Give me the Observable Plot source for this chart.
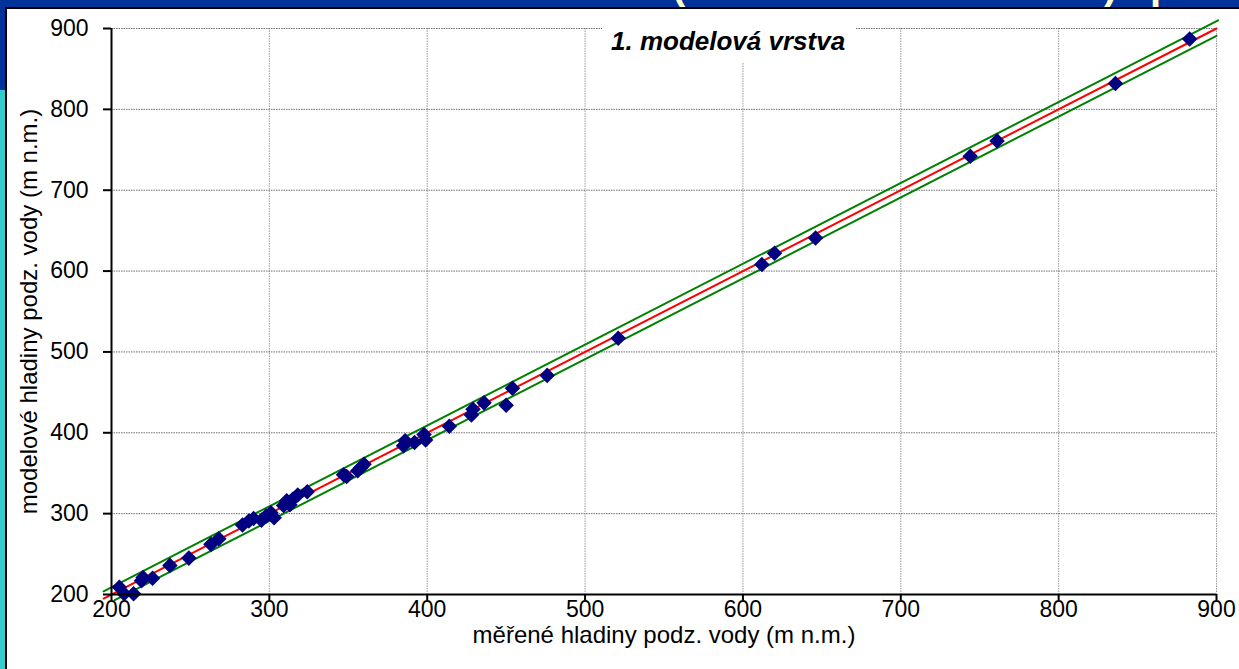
<!DOCTYPE html>
<html>
<head>
<meta charset="utf-8">
<script src="https://cdn.jsdelivr.net/npm/d3@7"></script>
<script src="https://cdn.jsdelivr.net/npm/@observablehq/plot@0.6"></script>
<style>
  html, body { margin: 0; padding: 0; background: #fff; width: 1239px; height: 669px; overflow: hidden;
    font-family: "Liberation Sans", Arial, sans-serif; }
  #chart { position: absolute; left: 0; top: 0; }
  #banner { position: absolute; left: 0; top: 0; width: 1239px; height: 7px; background: #003399; overflow: hidden; }
  #banner span { position: absolute; top: -35px; font: bold 40px/40px "Liberation Sans", Arial, sans-serif; color: #ffffcc; }
  #bannerline { position: absolute; left: 0; top: 7px; width: 1239px; height: 2px; background: #000; }
  #stripBlue { position: absolute; left: 0; top: 0; width: 5px; height: 90px; background: #003399; }
  #stripTeal { position: absolute; left: 0; top: 90px; width: 5px; height: 579px; background: #33cccc; }
  #stripLine { position: absolute; left: 5px; top: 7px; width: 2px; height: 662px; background: #000; }
  #layerBox { position: absolute; left: 602px; top: 16px; width: 254px; height: 46px; background: #fff; }
  #layerBox span { position: absolute; left: 9px; top: 12px; font: italic bold 26px/26px "Liberation Sans", Arial, sans-serif; color: #000; white-space: nowrap; }
</style>
</head>
<body>
<div id="chart"></div>
<div id="banner"><span style="left:672px">(</span><span style="left:1104px">)</span><span style="left:1150px">p</span></div>
<div id="bannerline"></div>
<div id="stripBlue"></div>
<div id="stripTeal"></div>
<div id="stripLine"></div>
<div id="layerBox"><span>1. modelová vrstva</span></div>
<script>
// measured groundwater levels (m n.m.)
const measured = [205, 208, 214, 219, 220, 226, 237, 249, 263, 268, 283, 287, 290, 295, 298, 301, 303,
  309, 311, 313, 315, 318, 324, 347, 349, 356, 358, 360, 385, 386, 392, 398, 399, 414, 428, 429,
  436, 450, 454, 476, 521, 612, 620, 646, 744, 761, 836, 883];
// modelled groundwater levels (m n.m.)
const modeled = [209, 201, 201, 217, 221, 220, 236, 245, 262, 269, 286, 291, 294, 292, 297, 301, 295,
  310, 316, 311, 318, 323, 327, 348, 346, 353, 357, 361, 384, 390, 388, 398, 391, 408, 422, 429,
  437, 434, 455, 471, 517, 608, 622, 641, 742, 761, 832, 887];
// 1:1 line and tolerance band
const idealX = [195, 900];
const idealY = [195, 900];
const upperX = [195, 901];
const upperY = [204, 910];
const lowerX = [202, 900];
const lowerY = [193, 891];
const xTicks = [200, 300, 400, 500, 600, 700, 800, 900];
const yTicks = [200, 300, 400, 500, 600, 700, 800, 900];
const xTitle = "měřené hladiny podz. vody (m n.m.)";
const yTitle = "modelové hladiny podz. vody (m n.m.)";

const points = measured.map((x, i) => ({x, y: modeled[i]}));
const ideal = idealX.map((x, i) => ({x, y: idealY[i]}));
const upper = upperX.map((x, i) => ({x, y: upperY[i]}));
const lower = lowerX.map((x, i) => ({x, y: lowerY[i]}));

const chart = Plot.plot({
  width: 1239,
  height: 669,
  marginLeft: 111,
  marginRight: 23,
  marginTop: 28,
  marginBottom: 75,
  style: {fontFamily: '"Liberation Sans", Arial, sans-serif', fontSize: "23px", background: "transparent", color: "#000", overflow: "visible"},
  x: {domain: [200, 900]},
  y: {domain: [200, 900]},
  marks: [
    Plot.gridX(xTicks, {stroke: "#9a9a9a", strokeOpacity: 1, strokeDasharray: "1.5,1"}),
    Plot.gridY(yTicks, {stroke: "#6e6e6e", strokeOpacity: 1, strokeDasharray: "1.5,1"}),
    Plot.line(upper, {x: "x", y: "y", stroke: "#008000", strokeWidth: 2}),
    Plot.line(lower, {x: "x", y: "y", stroke: "#008000", strokeWidth: 2}),
    Plot.line(ideal, {x: "x", y: "y", stroke: "#ff0000", strokeWidth: 2}),
    Plot.dot(points, {x: "x", y: "y", symbol: "diamond2", r: 7, fill: "#000080", stroke: "none"}),
    Plot.ruleX([200], {stroke: "#000", strokeWidth: 2}),
    Plot.ruleY([200], {stroke: "#000", strokeWidth: 2}),
    Plot.axisX(xTicks, {tickSize: 6, tickPadding: 0, strokeWidth: 2, fontSize: 23,
      label: xTitle, labelAnchor: "center", labelOffset: 48, labelArrow: "none"}),
    Plot.axisY(yTicks, {tickSize: 8, tickPadding: 15, strokeWidth: 2, fontSize: 23,
      label: yTitle, labelAnchor: "center", labelOffset: 92, labelArrow: "none"})
  ]
});
// axis titles slightly larger than tick labels
chart.querySelectorAll("g[aria-label='x-axis label'] text, g[aria-label='y-axis label'] text")
  .forEach(t => t.setAttribute("font-size", "24"));
document.getElementById("chart").appendChild(chart);
</script>
</body>
</html>
